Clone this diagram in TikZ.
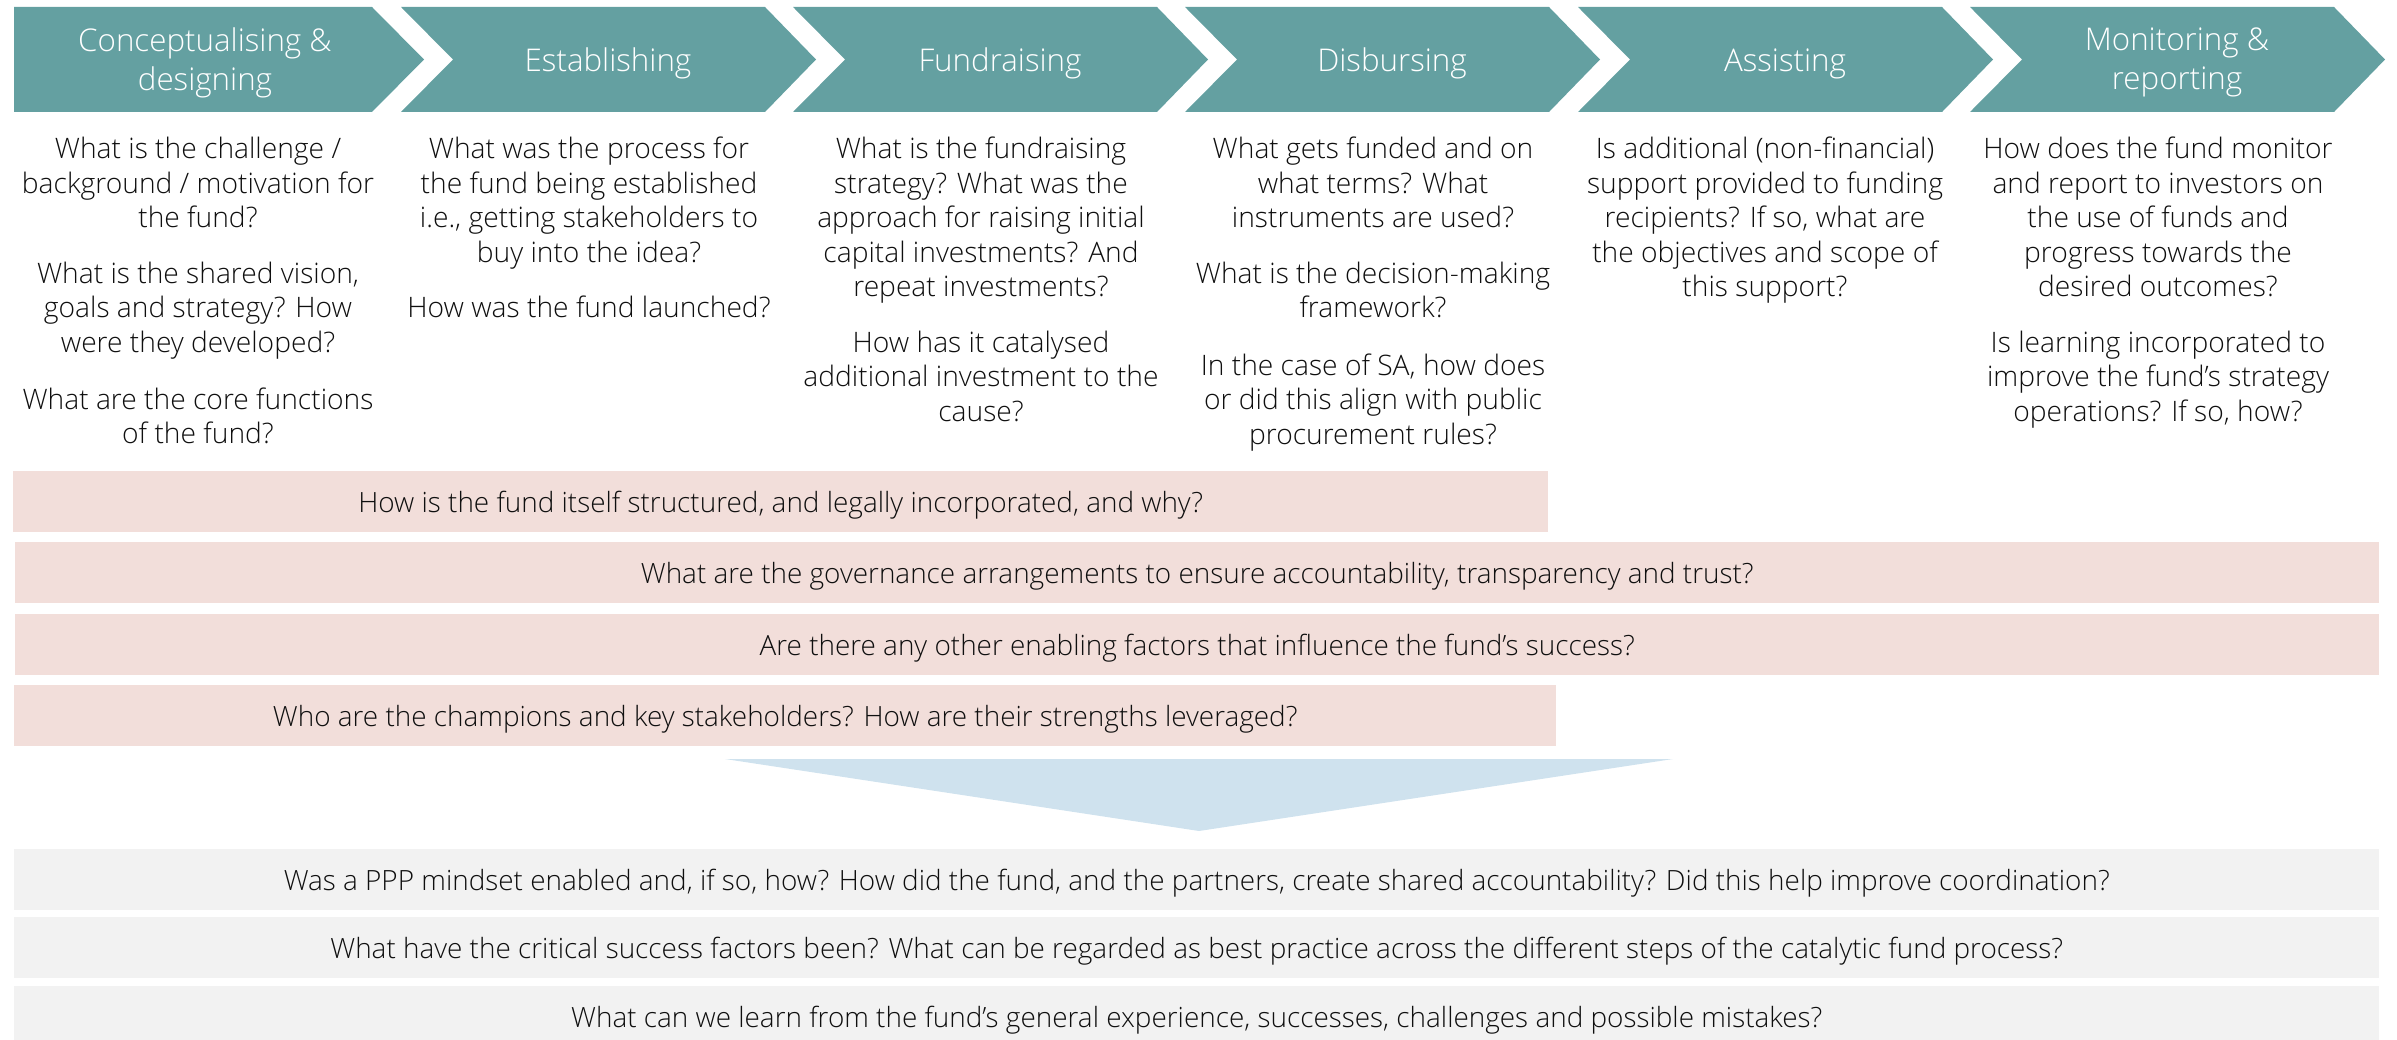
\documentclass[tikz,border=0pt]{standalone}
\usepackage{fontspec}
\IfFontExistsTF{Open Sans Light}{\setmainfont{Open Sans Light}}{\setmainfont{Open Sans}}
\definecolor{stepteal}{RGB}{100,160,161}
\definecolor{crosspink}{RGB}{242,222,218}
\definecolor{lessongray}{RGB}{242,242,242}
\definecolor{funnelblue}{RGB}{207,226,238}
\definecolor{ink}{RGB}{15,15,15}
\tikzset{
  stagehead/.style={text=white, align=center, inner sep=0pt,
    font=\fontsize{31.3}{38.5}\selectfont},
  question/.style={text=ink, align=center, inner sep=0pt, anchor=north,
    font=\fontsize{28.2}{34.5}\selectfont},
  band/.style={anchor=north west, inner sep=0pt, minimum height=61pt,
    text height=26pt, text depth=5pt, text=ink,
    font=\fontsize{27.9}{34.5}\selectfont},
  crossband/.style={band, fill=crosspink},
  lessonband/.style={band, fill=lessongray},
}
\begin{document}
\begin{tikzpicture}[x=1pt, y=-1pt]
\useasboundingbox (0,0) rectangle (2397,1040);

% process chevrons
\fill[stepteal] (14,7) -- (372,7) -- (424,59.5) -- (372,112) -- (14,112) -- cycle;
\foreach \L in {401,793,1185,1578,1970}{
  \fill[stepteal] (\L,7) -- ({\L+364},7) -- ({\L+415},59.5) -- ({\L+364},112)
    -- (\L,112) -- ({\L+52},59.5) -- cycle;
}
\node[stagehead, anchor=north] (h1) at (205,28) {Conceptualising \&\\designing};
\node[stagehead, anchor=base] (h2) at (608,72) {Establishing};
\node[stagehead, anchor=base] (h3) at (1000,72) {Fundraising};
\node[stagehead, anchor=base] (h4) at (1392,72) {Disbursing};
\node[stagehead, anchor=base] (h5) at (1785,72) {Assisting};
\node[stagehead, anchor=north] (h6) at (2177,28) {Monitoring \&\\reporting};

% questions per stage
\node[question] (q1) at (198,137) {What is the challenge /\\background / motivation for\\the fund?\\[21pt]What is the shared vision,\\goals and strategy? How\\were they developed?\\[22.5pt]What are the core functions\\of the fund?};
\node[question] (q2) at (589,137) {What was the process for\\the fund being established\\i.e., getting stakeholders to\\buy into the idea?\\[21pt]How was the fund launched?};
\node[question] (q3) at (981,137) {What is the fundraising\\strategy? What was the\\approach for raising initial\\capital investments? And\\repeat investments?\\[21pt]How has it catalysed\\additional investment to the\\cause?};
\node[question] (q4) at (1373,137) {What gets funded and on\\what terms? What\\instruments are used?\\[21pt]What is the decision-making\\framework?\\[23pt]In the case of SA, how does\\or did this align with public\\procurement rules?};
\node[question] (q5) at (1765,137) {Is additional (non-financial)\\support provided to funding\\recipients? If so, what are\\the objectives and scope of\\this support?};
\node[question] (q6) at (2158,137) {How does the fund monitor\\and report to investors on\\the use of funds and\\progress towards the\\desired outcomes?\\[21pt]Is learning incorporated to\\improve the fund’s strategy\\operations? If so, how?};

% cross-cutting questions
\node[crossband, minimum width=1535pt] (c1) at (13,471) {How is the fund itself structured, and legally incorporated, and why?};
\node[crossband, minimum width=2364pt] (c2) at (15,542) {What are the governance arrangements to ensure accountability, transparency and trust?};
\node[crossband, minimum width=2364pt] (c3) at (15,614) {Are there any other enabling factors that influence the fund’s success?};
\node[crossband, minimum width=1542pt] (c4) at (14,685) {Who are the champions and key stakeholders? How are their strengths leveraged?};

% funnel
\fill[funnelblue] (725,759) -- (1673,759) -- (1199,831) -- cycle;

% overall lessons
\node[lessonband, minimum width=2365pt] (l1) at (14,849) {Was a PPP mindset enabled and, if so, how? How did the fund, and the partners, create shared accountability? Did this help improve coordination?};
\node[lessonband, minimum width=2365pt] (l2) at (14,917) {What have the critical success factors been? What can be regarded as best practice across the different steps of the catalytic fund process?};
\node[lessonband, minimum width=2365pt, minimum height=54pt, text height=33pt] (l3) at (14,986) {What can we learn from the fund’s general experience, successes, challenges and possible mistakes?};
\end{tikzpicture}
\end{document}
